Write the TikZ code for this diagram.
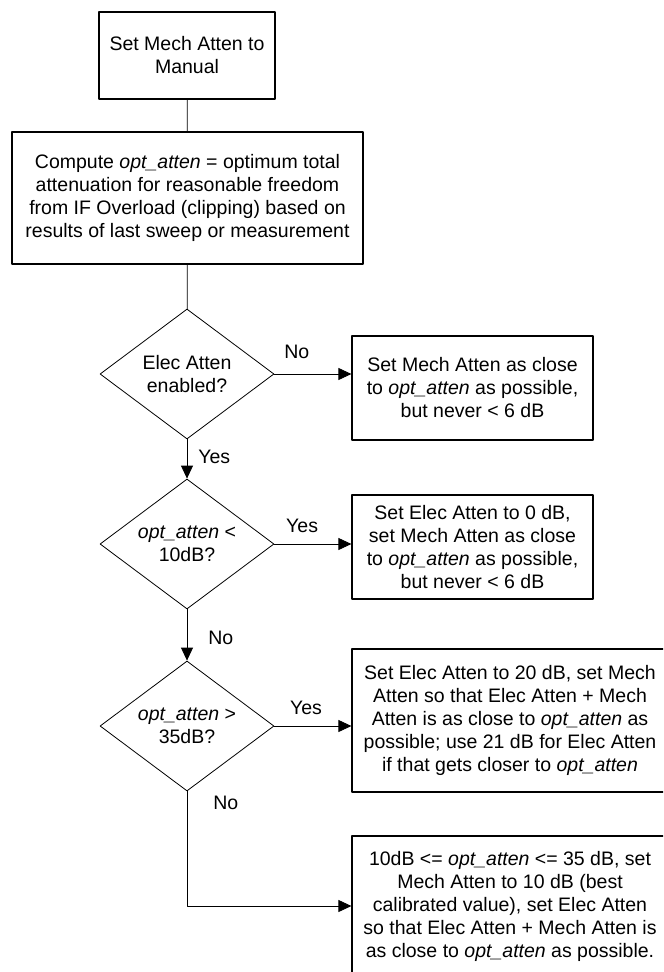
\documentclass[tikz,border=0pt]{standalone}
\usepackage{fontspec}
\setmainfont{Liberation Sans}
\usetikzlibrary{arrows.meta,shapes.geometric}

\begin{document}
\begin{tikzpicture}[line cap=round,line join=round,>={Triangle[length=6.5pt,width=6pt]},x=0.5pt,y=-0.5pt,
  font=\fontsize{9.75}{11.5}\selectfont,
  procbox/.style={draw,line width=0.6pt,inner sep=0pt,align=center},
  decide/.style={draw,diamond,aspect=1.34,line width=0.4pt,inner sep=0pt,align=center,minimum width=87pt,minimum height=65pt},
  lbl/.style={inner sep=1.5pt}]
\path[use as bounding box,clip] (0,0) rectangle (663,972);
%left column
\node[procbox,minimum width=88pt,minimum height=43.5pt] (manual) at (187,55.5) {Set Mech Atten to\\Manual};
\node[procbox,minimum width=175.5pt,minimum height=66pt] (compute) at (187.5,198) {Compute \textit{opt\_atten} = optimum total\\attenuation for reasonable freedom\\from IF Overload (clipping) based on\\results of last sweep or measurement};
\node[decide] (elecon) at (187,374) {Elec Atten\\enabled?};
\node[decide] (lowatt) at (187,544) {\textit{opt\_atten} <\\10dB?};
\node[decide] (highatt) at (187,726) {\textit{opt\_atten} >\\35dB?};
%right column
\node[procbox,minimum width=120.5pt,minimum height=52pt] (mechonly) at (472.5,388) {Set Mech Atten as close\\to \textit{opt\_atten} as possible,\\but never < 6 dB};
\node[procbox,minimum width=120.5pt,minimum height=52pt] (eleczero) at (472.5,547) {Set Elec Atten to 0 dB,\\set Mech Atten as close\\to \textit{opt\_atten} as possible,\\but never < 6 dB};
\node[procbox,minimum width=158pt,minimum height=71.5pt,xshift=1.25pt] (electwenty) at (507.5,720.5) {Set Elec Atten to 20 dB, set Mech\\Atten so that Elec Atten + Mech\\Atten is as close to \textit{opt\_atten} as\\possible; use 21 dB for Elec Atten\\if that gets closer to \textit{opt\_atten}};
\node[procbox,minimum width=158pt,minimum height=70pt,xshift=1.25pt] (mechten) at (507.5,906) {10dB <= \textit{opt\_atten} <= 35 dB, set\\Mech Atten to 10 dB (best\\calibrated value), set Elec Atten\\so that Elec Atten + Mech Atten is\\as close to \textit{opt\_atten} as possible.};
%connectors
\draw[line width=0.4pt] (manual) -- (compute);
\draw[line width=0.4pt] (compute) -- (elecon);
\draw[->,line width=0.4pt] (elecon.east) -- node[lbl,pos=.29,above=6pt] (noone) {No} (elecon.east -| mechonly.west);
\draw[->,line width=0.4pt] (elecon.south) -- node[lbl,pos=.45,right=4pt] (yesone) {Yes} (lowatt.north);
\draw[->,line width=0.4pt] (lowatt.east) -- node[lbl,pos=.36,above=4pt] (yestwo) {Yes} (lowatt.east -| eleczero.west);
\draw[->,line width=0.4pt] (lowatt.south) -- node[lbl,pos=.55,right=9pt] (notwo) {No} (highatt.north);
\draw[->,line width=0.4pt] (highatt.east) -- node[lbl,pos=.41,above=4pt] (yesthree) {Yes} (highatt.east -| electwenty.west);
\draw[->,line width=0.4pt] (highatt.south) |- node[lbl,pos=.05,right=11.5pt] (nothree) {No} (mechten.west);
\end{tikzpicture}
\end{document}
